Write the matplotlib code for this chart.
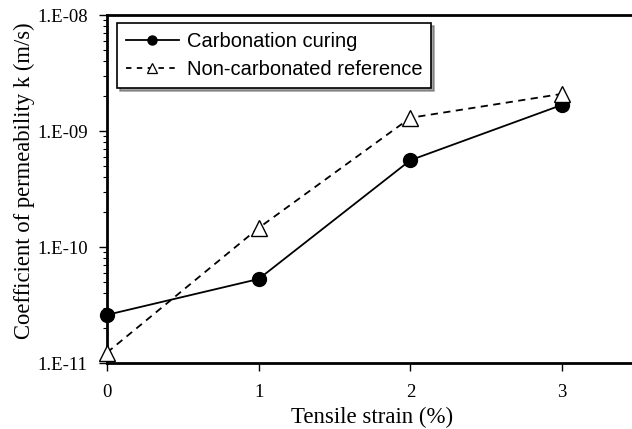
import matplotlib
matplotlib.use("Agg")
import matplotlib.pyplot as plt
from matplotlib.ticker import LogLocator
from matplotlib.lines import Line2D

strain = [0, 1, 2, 3]
carbonation = [2.6e-11, 5.3e-11, 5.6e-10, 1.68e-9]
non_carbonated = [1.23e-11, 1.46e-10, 1.3e-9, 2.09e-9]
xticks = [0, 1, 2, 3]
yticks = [1e-11, 1e-10, 1e-9, 1e-8]
ytick_labels = ["1.E-11", "1.E-10", "1.E-09", "1.E-08"]

W, H = 632, 429
fig = plt.figure(figsize=(W/100, H/100), dpi=100)
left, right = 107, 107 + 3.5 * 151.7
top, bottom = 15, 363
ax = fig.add_axes([left/W, 1 - bottom/H, (right-left)/W, (bottom-top)/H])

ax.plot(strain, carbonation, '-', color='black', lw=1.3, marker='o', ms=10,
        mfc='black', mec='black', clip_on=False, zorder=3)
ax.plot(strain, non_carbonated, '--', color='black', lw=1.3, marker='^', ms=11,
        mfc='white', mec='black', mew=1.0, dashes=(4, 3), clip_on=False, zorder=3)

ax.set_yscale('log')
ax.set_ylim(1e-11, 1e-8)
ax.set_xlim(0, 3.5)
ax.set_yticks(yticks)
ax.set_yticklabels(ytick_labels)
ax.yaxis.set_minor_locator(LogLocator(base=10, subs=range(2, 10)))
ax.yaxis.set_minor_formatter(plt.NullFormatter())
ax.set_xticks(xticks)
ax.set_xticklabels([str(t) for t in xticks])

for s in ['left', 'bottom', 'top']:
    ax.spines[s].set_linewidth(2)
ax.spines['right'].set_visible(False)

ax.tick_params(axis='y', which='major', direction='out', length=6, width=1,
               labelsize=13.5, pad=8)
ax.tick_params(axis='x', which='major', direction='out', length=6, width=1,
               labelsize=13.5, pad=9)
ax.tick_params(axis='y', which='minor', direction='out', length=3, width=0.8)
for lbl in ax.get_xticklabels() + ax.get_yticklabels():
    lbl.set_family('Liberation Serif')

ax.set_xlabel('Tensile strain (%)', family='Liberation Serif', fontsize=16.5, labelpad=4)
ax.set_ylabel('Coefficient of permeability k (m/s)', family='Liberation Serif',
              fontsize=16.3)
ax.yaxis.set_label_coords(-0.135, 0.523)

handles = [
    Line2D([], [], color='black', lw=1.3, marker='o', ms=6.5, mfc='black', mec='black'),
    Line2D([], [], color='black', lw=1.3, ls='--', dashes=(3, 3), marker='^', ms=6.5,
           mfc='white', mec='black', mew=0.9),
]
labels = ['Carbonation curing', 'Non-carbonated reference']
leg = ax.legend(handles, labels, loc='upper left', bbox_to_anchor=(0.019, 0.977),
                borderaxespad=0, frameon=True, fancybox=False, shadow=True,
                prop={'family': 'Liberation Sans', 'size': 14.5},
                handlelength=2.6, borderpad=0.45, labelspacing=0.45, handletextpad=0.4)
leg.get_frame().set_edgecolor('black')
leg.get_frame().set_linewidth(1.2)

fig.savefig('out.png', dpi=100)
